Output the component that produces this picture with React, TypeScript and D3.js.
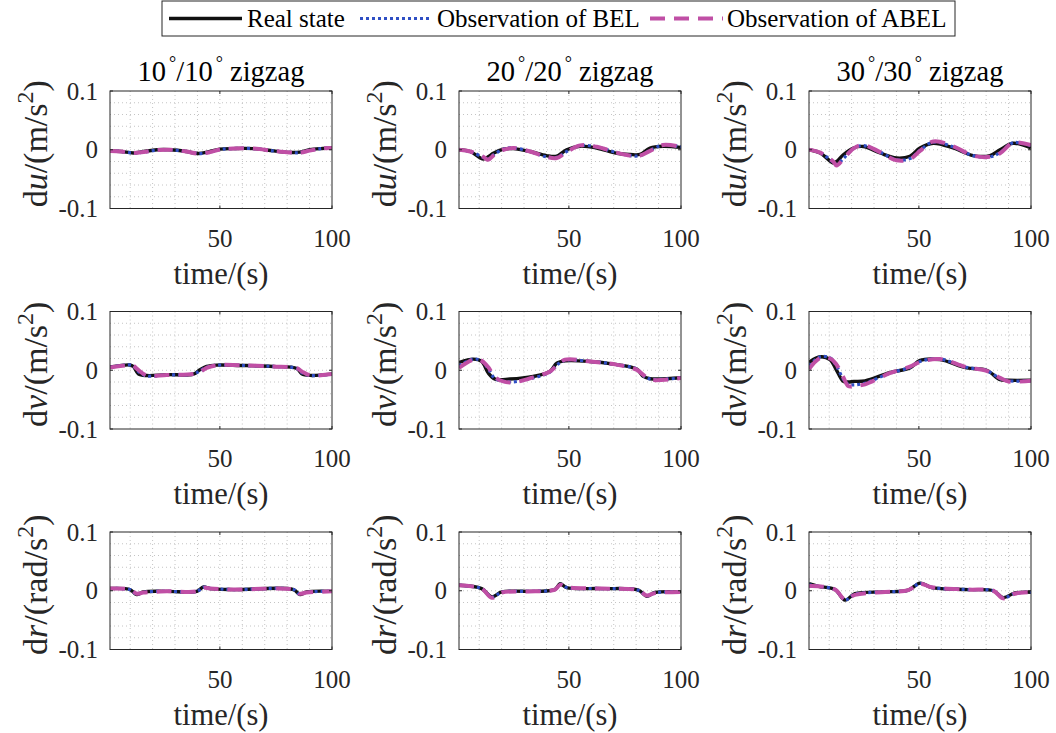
import React from 'react';
import * as d3 from 'd3';

// ---------- tick / label content ----------
const timeTicks = [50, 100];
const valueTicks = [-0.1, 0, 0.1];
const valueTickLabels = ['-0.1', '0', '0.1'];
const minorTimeGrid = [10, 20, 30, 40, 50, 60, 70, 80, 90];
const minorValueGrid = [-0.08, -0.06, -0.04, -0.02, 0, 0.02, 0.04, 0.06, 0.08];
const zigzagAngles = ['10', '20', '30'];
const stateSymbols = ['u', 'v', 'r'];
const stateUnits = ['m/s', 'm/s', 'rad/s'];
const legendNames = ['Real state', 'Observation of BEL', 'Observation of ABEL'];

// ---------- data (time in s, value in units) ----------
// du, 10/10
const t_u10 = [1, 6, 11.4, 16, 22, 28, 35, 40.4, 45.6, 50, 56, 65, 74, 81, 85.7, 90, 95, 100];
const real_u10 = [-0.002, -0.003, -0.0055, -0.003, 0, 0, -0.003, -0.0065, -0.003, 0.001, 0.002, 0.002, -0.002, -0.0045, -0.004, 0.0, 0.002, 0.003];
const bel_u10 = [-0.002, -0.003, -0.0055, -0.004, -0.0005, 0, -0.003, -0.0065, -0.004, 0.0005, 0.002, 0.002, -0.002, -0.0045, -0.005, -0.001, 0.002, 0.003];
const abel_u10 = [-0.002, -0.003, -0.0055, -0.004, -0.0005, 0, -0.003, -0.0065, -0.004, 0.0005, 0.002, 0.002, -0.002, -0.0045, -0.005, -0.0015, 0.002, 0.003];
// du, 20/20
const t_u20 = [1, 6, 11.8, 14, 16.3, 20.8, 25.2, 32.7, 40, 44.6, 49, 55, 62.4, 71.3, 77.3, 81.7, 86.2, 92, 100];
const real_u20 = [0, -0.003, -0.016, -0.012, -0.006, 0.001, 0.002, -0.003, -0.010, -0.011, 0, 0.006, 0.003, -0.006, -0.008, -0.008, 0.003, 0.006, 0.004];
const bel_u20 = [0, -0.003, -0.013, -0.016, -0.009, 0.001, 0.003, -0.003, -0.012, -0.013, -0.003, 0.007, 0.005, -0.005, -0.010, -0.010, -0.001, 0.008, 0.005];
const abel_u20 = [0, -0.003, -0.012, -0.017, -0.010, 0.0, 0.003, -0.003, -0.012, -0.014, -0.004, 0.0075, 0.005, -0.005, -0.010, -0.010, -0.002, 0.008, 0.005];
// du, 30/30
const t_u30 = [1, 6, 11.8, 13.3, 16.3, 20.8, 25.2, 32.7, 40, 46, 50.5, 56.4, 65.3, 74.2, 81.7, 86.2, 92, 100];
const real_u30 = [0, -0.0055, -0.0225, -0.020, -0.0085, 0.003, 0.0055, -0.0055, -0.014, -0.011, 0.003, 0.011, 0.003, -0.010, -0.010, 0, 0.011, 0.003];
const bel_u30 = [0, -0.005, -0.021, -0.025, -0.015, 0.002, 0.007, -0.004, -0.017, -0.015, -0.001, 0.013, 0.005, -0.010, -0.012, -0.005, 0.012, 0.007];
const abel_u30 = [0, -0.005, -0.020, -0.027, -0.016, 0.002, 0.008, -0.004, -0.018, -0.016, -0.002, 0.014, 0.006, -0.010, -0.012, -0.006, 0.012, 0.008];
// dv, 10/10
const t_v10 = [1, 9.9, 11.4, 13.6, 17.4, 26.3, 38.2, 41.1, 44.1, 48.6, 59, 73.8, 84.3, 86.5, 90.2, 100];
const real_v10 = [0.0055, 0.009, 0.0065, -0.006, -0.009, -0.0075, -0.0065, 0.001, 0.0065, 0.0088, 0.0082, 0.0065, 0.003, -0.006, -0.0088, -0.0065];
const bel_v10 = [0.005, 0.009, 0.007, -0.002, -0.0095, -0.008, -0.0065, -0.001, 0.005, 0.0085, 0.0082, 0.0065, 0.003, -0.004, -0.009, -0.0065];
const abel_v10 = [0.0045, 0.0085, 0.0075, 0.0005, -0.009, -0.008, -0.0065, -0.003, 0.004, 0.0085, 0.0085, 0.0065, 0.0035, -0.002, -0.0085, -0.0065];
// dv, 20/20
const t_v20 = [1, 7.4, 11.1, 14.1, 17.1, 23.7, 34.1, 41.6, 44.6, 48.3, 59.4, 69.8, 80.2, 83.2, 86.2, 100];
const real_v20 = [0.0133, 0.019, 0.015, -0.005, -0.015, -0.015, -0.0105, -0.002, 0.012, 0.016, 0.015, 0.0105, 0.002, -0.0105, -0.0144, -0.0127];
const bel_v20 = [0.008, 0.019, 0.016, 0.002, -0.014, -0.020, -0.013, -0.003, 0.009, 0.017, 0.015, 0.0105, 0.002, -0.009, -0.015, -0.013];
const abel_v20 = [0.004, 0.018, 0.016, 0.005, -0.012, -0.021, -0.012, -0.002, 0.008, 0.018, 0.015, 0.0105, 0.001, -0.008, -0.016, -0.013];
// dv, 30/30
const t_v30 = [1, 6, 10.4, 13, 16.3, 18.5, 21, 26, 37, 46, 50.5, 59.4, 71.3, 80.2, 86.2, 90, 100];
const real_v30 = [0.0133, 0.023, 0.018, 0.002, -0.019, -0.020, -0.019, -0.018, -0.004, 0.004, 0.0167, 0.018, 0.004, 0, -0.016, -0.017, -0.017];
const bel_v30 = [0.008, 0.023, 0.021, 0.009, -0.015, -0.024, -0.025, -0.022, -0.005, 0.005, 0.015, 0.019, 0.005, -0.0005, -0.014, -0.018, -0.018];
const abel_v30 = [0.002, 0.021, 0.020, 0.011, -0.012, -0.027, -0.027, -0.024, -0.005, 0.006, 0.014, 0.019, 0.005, -0.001, -0.013, -0.019, -0.018];
// dr, 10/10
const t_r10 = [1, 9.9, 12.9, 15.9, 26.3, 39.7, 42.7, 45.6, 56, 82.8, 85.7, 88.7, 100];
const real_r10 = [0.0037, 0.002, -0.0065, -0.002, -0.001, -0.001, 0.0065, 0.0037, 0.002, 0.002, -0.0065, -0.002, -0.001];
const bel_r10 = [0.0037, 0.002, -0.006, -0.0025, -0.001, -0.001, 0.006, 0.004, 0.002, 0.002, -0.006, -0.0025, -0.001];
const abel_r10 = [0.0037, 0.002, -0.005, -0.003, -0.001, -0.001, 0.005, 0.004, 0.002, 0.002, -0.005, -0.003, -0.001];
// dr, 20/20
const t_r20 = [1, 11.1, 15.6, 20.1, 34.9, 43.8, 46.1, 49, 64.7, 81, 84.7, 88.4, 100];
const real_r20 = [0.0093, 0.0037, -0.0105, -0.002, -0.001, 0.002, 0.012, 0.0054, 0.0037, 0.001, -0.0093, -0.003, -0.002];
const bel_r20 = [0.0093, 0.0037, -0.011, -0.0025, -0.001, 0.002, 0.011, 0.0055, 0.0037, 0.001, -0.0085, -0.0035, -0.002];
const abel_r20 = [0.0093, 0.0037, -0.012, -0.003, -0.001, 0.002, 0.010, 0.006, 0.0037, 0.001, -0.008, -0.004, -0.002];
// dr, 30/30
const t_r30 = [1, 5.2, 12.6, 17.1, 21.5, 34.9, 45.3, 50.5, 55.7, 72, 83.2, 87.6, 92.8, 100];
const real_r30 = [0.012, 0.0076, 0.002, -0.016, -0.005, -0.002, 0.001, 0.013, 0.0054, 0.002, 0, -0.0116, -0.0037, -0.0025];
const bel_r30 = [0.010, 0.0076, 0.002, -0.0155, -0.006, -0.002, 0.001, 0.0125, 0.0057, 0.002, 0, -0.0123, -0.0045, -0.0025];
const abel_r30 = [0.008, 0.0076, 0.002, -0.015, -0.007, -0.002, 0.001, 0.012, 0.006, 0.002, 0, -0.013, -0.005, -0.0025];

const panelData = [
  [[t_u10, real_u10, bel_u10, abel_u10], [t_u20, real_u20, bel_u20, abel_u20], [t_u30, real_u30, bel_u30, abel_u30]],
  [[t_v10, real_v10, bel_v10, abel_v10], [t_v20, real_v20, bel_v20, abel_v20], [t_v30, real_v30, bel_v30, abel_v30]],
  [[t_r10, real_r10, bel_r10, abel_r10], [t_r20, real_r20, bel_r20, abel_r20], [t_r30, real_r30, bel_r30, abel_r30]],
];

// ---------- styling ----------
const FONT = 'Liberation Serif';
const AXIS_COLOR = '#262626';
const GRID_COLOR = '#c4c4c4';
const seriesStyles = [
  { color: '#111111', width: 3.4, dash: null },
  { color: '#2f4fc4', width: 3.2, dash: '3,3' },
  { color: '#c04fa5', width: 4, dash: '15,9' },
];

const colX = [110, 459, 809];
const rowY = [91, 311.5, 532];
const PW = 222;
const PH = 117.5;

const txt = (size: number) => ({ fontFamily: FONT, fontSize: size });

function Panel({ row, col }: { row: number; col: number }) {
  const x0 = colX[col];
  const y0 = rowY[row];
  const x = d3.scaleLinear().domain([1, 100]).range([x0, x0 + PW]);
  const y = d3.scaleLinear().domain([-0.1, 0.1]).range([y0 + PH, y0]);
  const [tt, ...series] = panelData[row][col] as number[][];
  const line = d3
    .line<number>()
    .x((_, i) => x(tt[i]))
    .y((d) => y(d))
    .curve(d3.curveCatmullRom.alpha(0.5));
  const clipId = `clip-${row}-${col}`;
  const tickLen = 3;
  return (
    <g>
      <defs>
        <clipPath id={clipId}>
          <rect x={x0} y={y0} width={PW} height={PH} />
        </clipPath>
      </defs>
      <rect x={x0} y={y0} width={PW} height={PH} fill="#fff" />
      {minorTimeGrid.map((t) => (
        <line key={'gx' + t} x1={x(t)} x2={x(t)} y1={y0} y2={y0 + PH} stroke={GRID_COLOR} strokeWidth={1} strokeDasharray="1,3" />
      ))}
      {minorValueGrid.map((v) => (
        <line key={'gy' + v} x1={x0} x2={x0 + PW} y1={y(v)} y2={y(v)} stroke={GRID_COLOR} strokeWidth={1} strokeDasharray="1,3" />
      ))}
      <g clipPath={`url(#${clipId})`}>
        {series.map((vals, si) => (
          <path
            key={si}
            d={line(vals) || ''}
            fill="none"
            stroke={seriesStyles[si].color}
            strokeWidth={seriesStyles[si].width}
            strokeDasharray={seriesStyles[si].dash || undefined}
            strokeLinecap="butt"
            strokeLinejoin="round"
          />
        ))}
      </g>
      <rect x={x0} y={y0} width={PW} height={PH} fill="none" stroke={AXIS_COLOR} strokeWidth={1} />
      {timeTicks.map((t) => (
        <g key={'xt' + t}>
          <line x1={x(t)} x2={x(t)} y1={y0 + PH} y2={y0 + PH - tickLen} stroke={AXIS_COLOR} />
          <line x1={x(t)} x2={x(t)} y1={y0} y2={y0 + tickLen} stroke={AXIS_COLOR} />
          <text x={x(t)} y={y0 + PH + 38} textAnchor="middle" style={txt(25)} fill={AXIS_COLOR}>
            {t}
          </text>
        </g>
      ))}
      {valueTicks.map((v, i) => (
        <g key={'yt' + v}>
          <line x1={x0} x2={x0 + tickLen} y1={y(v)} y2={y(v)} stroke={AXIS_COLOR} />
          <line x1={x0 + PW} x2={x0 + PW - tickLen} y1={y(v)} y2={y(v)} stroke={AXIS_COLOR} />
          <text x={x0 - 12} y={y(v) + 8.5} textAnchor="end" style={txt(25)} fill={AXIS_COLOR}>
            {valueTickLabels[i]}
          </text>
        </g>
      ))}
      <text x={x0 + PW / 2} y={y0 + PH + 75} textAnchor="middle" style={txt(30.5)} fill={AXIS_COLOR}>
        time/(s)
      </text>
      <text
        transform={`translate(${x0 - 63},${y0 + PH / 2 - 6}) rotate(-90)`}
        textAnchor="middle"
        style={txt(34)}
        fill={AXIS_COLOR}
      >
        d<tspan fontStyle="italic">{stateSymbols[row]}</tspan>/({stateUnits[row]}
        <tspan fontSize={24} dy={-14}>2</tspan>
        <tspan dy={14}>)</tspan>
      </text>
      {row === 0 && (
        <text x={x0 + PW / 2} y={y0 - 10} textAnchor="middle" style={txt(28.5)} fill="#000">
          {zigzagAngles[col]}
          <tspan dx={3} dy={-12} fontSize={18}>°</tspan>
          <tspan dy={12}>/{zigzagAngles[col]}</tspan>
          <tspan dx={3} dy={-12} fontSize={18}>°</tspan>
          <tspan dy={12}> zigzag</tspan>
        </text>
      )}
    </g>
  );
}

function Legend() {
  const top = 1;
  const h = 35;
  const left = 162;
  const right = 955;
  const cy = top + h / 2;
  const items = [
    { x1: 169, x2: 242, tx: 247 },
    { x1: 360, x2: 431, tx: 437 },
    { x1: 650, x2: 723, tx: 727 },
  ];
  return (
    <g>
      <rect x={left} y={top} width={right - left} height={h} fill="#fff" stroke={AXIS_COLOR} strokeWidth={1} />
      {items.map((it, i) => (
        <g key={i}>
          <line
            x1={it.x1}
            x2={it.x2}
            y1={cy}
            y2={cy}
            stroke={seriesStyles[i].color}
            strokeWidth={seriesStyles[i].width}
            strokeDasharray={seriesStyles[i].dash || undefined}
          />
          <text x={it.tx} y={cy + 8.5} style={txt(25)} fill="#000">
            {legendNames[i]}
          </text>
        </g>
      ))}
    </g>
  );
}

export default function App() {
  return (
    <svg width={1056} height={733} style={{ position: 'absolute', left: 0, top: 0, background: '#fff' }}>
      <rect x={0} y={0} width={1056} height={733} fill="#fff" />
      {[0, 1, 2].map((r) => [0, 1, 2].map((c) => <Panel key={`${r}-${c}`} row={r} col={c} />))}
      <Legend />
    </svg>
  );
}
